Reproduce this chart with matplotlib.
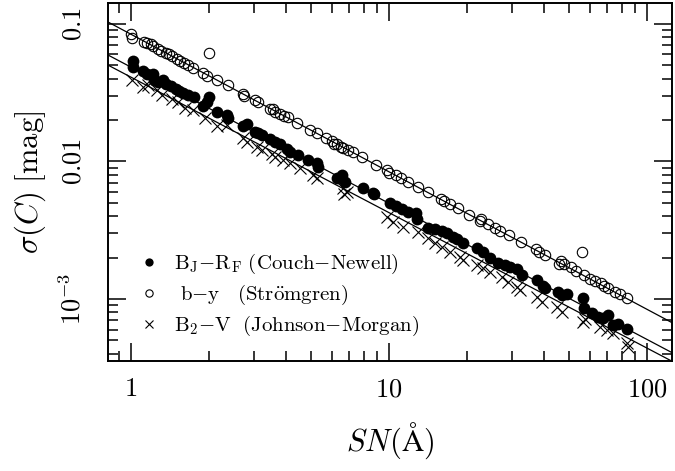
import numpy as np
import matplotlib
matplotlib.use('Agg')
import matplotlib.pyplot as plt

plt.rcParams['mathtext.fontset'] = 'cm'
plt.rcParams['font.family'] = 'serif'
plt.rcParams['font.serif'] = ['DejaVu Serif']

# b-y (Stromgren), open circles
sn_by = [1.00, 1.01, 1.12, 1.15, 1.19, 1.22, 1.27, 1.31, 1.36, 1.40, 1.44, 1.51, 1.55,
         1.60, 1.66, 1.74, 1.90, 1.97, 2.00, 2.15, 2.37, 2.72, 2.75, 3.02, 3.10, 3.45,
         3.55, 3.61, 3.78, 3.92, 4.06, 4.40, 4.93, 5.25, 5.70, 6.01, 6.10, 6.28, 6.50,
         6.63, 6.94, 7.25, 7.85, 8.91, 9.83, 10.0, 10.6, 11.1, 11.8, 12.9, 14.1, 15.9,
         16.3, 17.2, 18.5, 20.4, 22.5, 22.8, 24.1, 25.7, 27.0, 29.2, 32.5, 37.1, 38.0,
         40.3, 45.6, 46.5, 47.5, 50.8, 53.1, 56.1, 57.0, 60.3, 63.0, 66.3, 68.0, 70.6,
         75.3, 78.6, 83.9]
sig_by = [0.084, 0.079, 0.074, 0.073, 0.071, 0.069, 0.066, 0.064, 0.061, 0.060, 0.058,
          0.056, 0.054, 0.052, 0.050, 0.048, 0.044, 0.042, 0.062, 0.039, 0.036, 0.031,
          0.030, 0.028, 0.027, 0.024, 0.024, 0.023, 0.022, 0.0215, 0.021, 0.0192, 0.017,
          0.0162, 0.0148, 0.0141, 0.0134, 0.0135, 0.0128, 0.0126, 0.0121, 0.0117, 0.0108,
          0.0094, 0.0086, 0.0083, 0.0080, 0.0076, 0.0071, 0.0065, 0.0060, 0.0053, 0.0052,
          0.0049, 0.0046, 0.0041, 0.0037, 0.0038, 0.0035, 0.0033, 0.0031, 0.0029, 0.0026,
          0.0023, 0.0022, 0.0021, 0.0018, 0.0019, 0.0018, 0.0017, 0.0016, 0.0022, 0.0015,
          0.0014, 0.00135, 0.0013, 0.00125, 0.0012, 0.00112, 0.00108, 0.00102]

# BJ-RF (Couch-Newell), filled circles
sn_cn = [1.02, 1.02, 1.11, 1.15, 1.22, 1.23, 1.27, 1.33, 1.37, 1.43, 1.49, 1.53, 1.59,
         1.66, 1.75, 1.90, 1.97, 2.01, 2.15, 2.36, 2.38, 2.72, 2.82, 3.02, 3.10, 3.22,
         3.46, 3.62, 3.78, 4.03, 4.13, 4.44, 4.85, 5.26, 5.30, 6.29, 6.57, 6.75, 7.93,
         8.67, 8.75, 10.1, 10.6, 11.2, 11.8, 12.7, 12.8, 14.2, 15.1, 16.0, 16.8, 17.7,
         18.4, 19.4, 21.9, 23.1, 24.6, 26.4, 28.2, 29.4, 31.3, 32.8, 37.5, 39.5, 40.3,
         45.2, 46.8, 48.9, 56.5, 56.9, 61.2, 64.6, 67.5, 70.6, 73.8, 77.2, 83.6]
sig_cn = [0.0538, 0.0487, 0.0455, 0.0433, 0.0433, 0.0392, 0.0379, 0.0392, 0.0366, 0.0354,
          0.0336, 0.0326, 0.0315, 0.0305, 0.0295, 0.0253, 0.0271, 0.0294, 0.0229, 0.0218,
          0.0207, 0.0181, 0.0187, 0.0164, 0.0161, 0.0156, 0.0146, 0.0139, 0.0134, 0.0123,
          0.0117, 0.0111, 0.0103, 0.0098, 0.0091, 0.0076, 0.0080, 0.0071, 0.0064, 0.0059,
          0.0058, 0.00499, 0.00474, 0.00451, 0.00429, 0.00422, 0.00382, 0.00328, 0.00323,
          0.00312, 0.00302, 0.00282, 0.00273, 0.00255, 0.00235, 0.0022, 0.00199, 0.00183,
          0.00177, 0.00171, 0.00165, 0.0015, 0.00138, 0.00124, 0.0012, 0.00112, 0.00107,
          0.00109, 0.00102, 0.00086, 0.00079, 0.00074, 0.00073, 0.00077, 0.00065, 0.00066,
          0.00061]

# B2-V (Johnson-Morgan), crosses
sn_jm = [1.01, 1.11, 1.16, 1.26, 1.32, 1.44, 1.52, 1.62, 1.74, 1.94, 2.15, 2.36, 2.72,
         2.82, 3.08, 3.22, 3.52, 3.62, 3.88, 4.13, 4.52, 5.07, 5.26, 6.63, 6.88, 6.70,
         9.83, 10.4, 11.3, 12.9, 14.2, 15.1, 16.0, 17.2, 18.8, 19.4, 21.9, 23.1, 24.6,
         27.4, 28.9, 31.3, 32.2, 37.5, 39.2, 44.8, 46.8, 56.5, 57.5, 65.8, 70.0, 73.8,
         83.6, 84.3]
sig_jm = [0.0392, 0.0348, 0.036, 0.0331, 0.0305, 0.0285, 0.0271, 0.0245, 0.0237, 0.0207,
          0.0181, 0.0184, 0.0148, 0.0139, 0.0127, 0.0121, 0.0113, 0.0108, 0.0103, 0.0098,
          0.0090, 0.0080, 0.0076, 0.0064, 0.0060, 0.0058, 0.00394, 0.00363, 0.00334,
          0.00307, 0.00278, 0.00255, 0.00239, 0.0022, 0.00202, 0.00192, 0.00177, 0.00168,
          0.00157, 0.00144, 0.00133, 0.00122, 0.00116, 0.00103, 0.00095, 0.00087, 0.0008,
          0.00068, 0.00071, 0.00063, 0.0006, 0.00057, 0.00048, 0.00045]

# power-law fits: sigma = amp * SN**slope
fit_amp = [0.0841, 0.0485, 0.0410]
fit_slope = [-1.0, -0.99, -0.985]

ytick_vals = [0.1, 0.01, 0.001]
ytick_labels = [r'$0.1$', r'$0.01$', r'$10^{-3}$']
xtick_vals = [1, 10, 100]
xtick_labels = [r'$1$', r'$10$', r'$100$']

fig = plt.figure(figsize=(6.75, 4.71), dpi=100)
ax = fig.add_axes([0.16, 0.2335, 0.8356, 0.7601])
ax.set_xscale('log')
ax.set_yscale('log')
ax.set_xlim(0.814, 125)
ax.set_ylim(3.54e-4, 0.142)

ax.plot(sn_cn, sig_cn, 'o', color='k', ms=8.5, mew=0, label=r'$\mathrm{B_J{-}R_F\ (Couch{-}Newell)}$')
ax.plot(sn_by, sig_by, 'o', mfc='none', mec='k', ms=7.5, mew=0.8, label=r'$\mathrm{\ b{-}y\ \ \ (Str\ddot{o}mgren)}$')
ax.plot(sn_jm, sig_jm, 'x', color='k', ms=9, mew=0.8, label=r'$\mathrm{B_2{-}V\ \ (Johnson{-}Morgan)}$')

xx = np.array(ax.get_xlim())
for amp, slope in zip(fit_amp, fit_slope):
    ax.plot(xx, amp * xx**slope, color='k', lw=0.9)

ax.set_xticks(xtick_vals, xtick_labels, fontsize=19)
ax.set_yticks(ytick_vals, ytick_labels, fontsize=19, rotation=90, va='center')
ax.tick_params(which='both', direction='in', top=True, right=True, width=1.1)
ax.tick_params(which='major', length=13)
ax.tick_params(which='minor', length=7)
ax.tick_params(axis='x', which='major', pad=11)
ax.tick_params(axis='y', which='major', pad=16)
ax.tick_params(axis='both', which='minor', labelleft=False, labelbottom=False)
for s in ax.spines.values():
    s.set_linewidth(1.4)

ax.set_xlabel(r'$SN(\mathrm{\AA})$', fontsize=22, labelpad=14)
ax.set_ylabel(r'$\sigma(C)\ [\mathrm{mag}]$', fontsize=22, labelpad=8)

ax.legend(loc='lower left', bbox_to_anchor=(0.035, 0.035), frameon=False, fontsize=15,
          markerscale=0.7, handlelength=1.0, handletextpad=0.7, labelspacing=0.32,
          borderpad=0)

fig.savefig('out.png', dpi=100)
